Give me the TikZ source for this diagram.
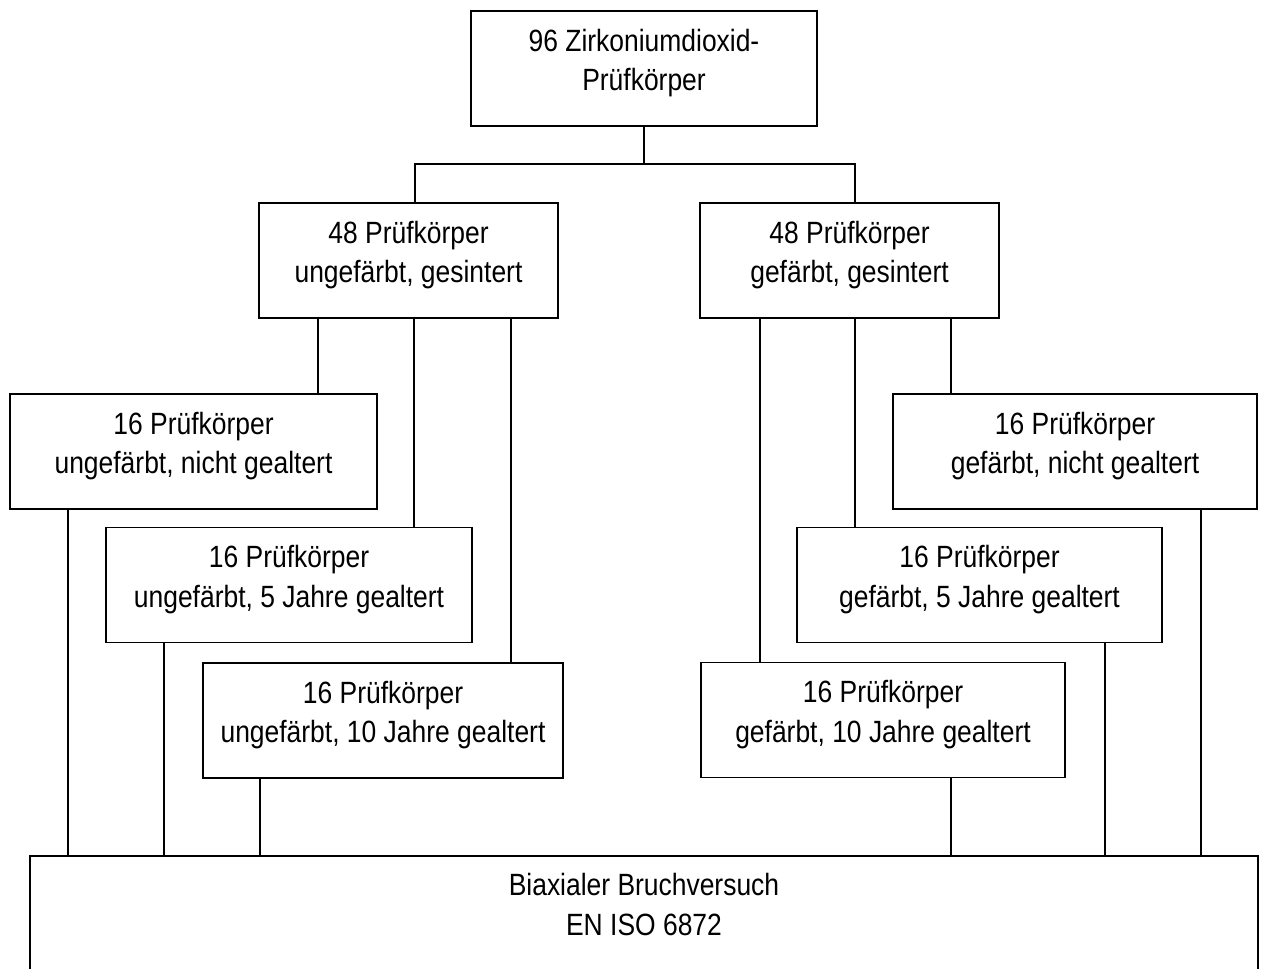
\documentclass[tikz,border=0pt]{standalone}
\usepackage{fontspec}
\setmainfont{Liberation Sans}[FakeStretch=0.86]
\tikzset{
  box/.style={draw, line width=0.8pt, align=center, inner sep=0pt,
    minimum height=2.3cm, text depth=10pt, font=\fontsize{17.5}{22.5}\selectfont},
  link/.style={line width=0.8pt}
}
\begin{document}
\begin{tikzpicture}[x=0.02cm, y=-0.02cm]
\useasboundingbox (0,0) rectangle (1263,968);
% top and first split
\node[box, minimum width=6.92cm] (top) at (644,68.5) {96 Zirkoniumdioxid-\\Prüfkörper};
\node[box, minimum width=5.98cm] (ml) at (408.5,260.5) {48 Prüfkörper\\ungefärbt, gesintert};
\node[box, minimum width=5.98cm] (mr) at (849.5,260.5) {48 Prüfkörper\\gefärbt, gesintert};
% left group
\node[box, minimum width=7.34cm] (l1) at (193.5,451.5) {16 Prüfkörper\\ungefärbt, nicht gealtert};
\node[box, minimum width=7.32cm] (l2) at (289,585) {16 Prüfkörper\\ungefärbt, 5 Jahre gealtert};
\node[box, minimum width=7.20cm] (l3) at (383,720.5) {16 Prüfkörper\\ungefärbt, 10 Jahre gealtert};
% right group
\node[box, minimum width=7.28cm] (r1) at (1075,451.5) {16 Prüfkörper\\gefärbt, nicht gealtert};
\node[box, minimum width=7.30cm] (r2) at (979.5,585) {16 Prüfkörper\\gefärbt, 5 Jahre gealtert};
\node[box, minimum width=7.28cm] (r3) at (883,720) {16 Prüfkörper\\gefärbt, 10 Jahre gealtert};
% test (runs past the lower edge)
\node[box, minimum width=24.56cm, minimum height=2.6cm, text depth=19pt] (bot) at (644,921) {Biaxialer Bruchversuch\\EN ISO 6872};

\coordinate (split) at (644,164);
\draw[link] (top.south) -- (split);
\draw[link] (ml.north -| 415,0) |- (split) -| (mr.north -| 855,0);
\foreach \src/\dst/\x in {ml/l1/318, ml/l2/414, ml/l3/511, mr/r1/951, mr/r2/855, mr/r3/760}
  \draw[link] (\src.south -| \x,0) -- (\dst.north -| \x,0);
\foreach \src/\x in {l1/68, l2/164, l3/260, r3/951, r2/1105, r1/1201}
  \draw[link] (\src.south -| \x,0) -- (bot.north -| \x,0);
\end{tikzpicture}
\end{document}
